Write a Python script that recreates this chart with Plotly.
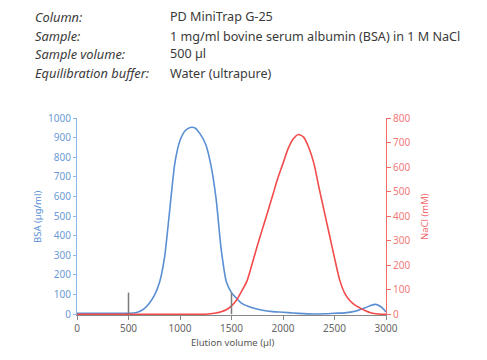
import plotly.graph_objects as go

# BSA (µg/ml) vs elution volume (µl)
bsa_x = [0, 250, 500, 550, 600, 650, 700, 750, 800, 850, 900, 950, 1000, 1050, 1100, 1150,
         1200, 1250, 1300, 1350, 1400, 1450, 1500, 1550, 1600, 1700, 1800, 1900, 2000, 2100,
         2200, 2300, 2400, 2500, 2600, 2700, 2750, 2800, 2850, 2900, 2950, 3000]
bsa_y = [5, 5, 5, 6, 12, 27, 55, 95, 160, 290, 530, 770, 885, 935, 952, 948,
         915, 865, 760, 590, 330, 165, 110, 80, 55, 33, 20, 13, 10, 6,
         3, 1, 2, 5, 7, 15, 24, 33, 44, 50, 38, 12]

# NaCl (mM) vs elution volume (µl)
nacl_x = [0, 1000, 1250, 1300, 1350, 1400, 1450, 1500, 1550, 1600, 1650, 1700, 1750, 1800,
          1850, 1900, 1950, 2000, 2050, 2100, 2150, 2200, 2250, 2300, 2350, 2400, 2450, 2500,
          2550, 2600, 2650, 2700, 2750, 2800, 2850, 2900, 2950, 3000]
nacl_y = [0, 0, 0, 2, 5, 10, 18, 34, 58, 95, 135, 205, 278, 347,
          415, 485, 555, 615, 675, 715, 733, 722, 680, 615, 515, 420, 325, 230,
          140, 85, 55, 37, 25, 14, 6, 2, 0, 0]

# Sample application / collection markers
marker_x = [500, 1500]
marker_h = [110, 110]

x_ticks = [0, 500, 1000, 1500, 2000, 2500, 3000]
bsa_ticks = [0, 100, 200, 300, 400, 500, 600, 700, 800, 900, 1000]
nacl_ticks = [0, 100, 200, 300, 400, 500, 600, 700, 800]

header_labels = ["Column:", "Sample:", "Sample volume:", "Equilibration buffer:"]
header_values = ["PD MiniTrap G-25", "1 mg/ml bovine serum albumin (BSA) in 1 M NaCl",
                 "500 µl", "Water (ultrapure)"]

BLUE = "#5a8fd4"
RED = "#f24b4b"
FONT = "Noto Sans"

fig = go.Figure()
fig.add_trace(go.Scatter(x=nacl_x, y=nacl_y, yaxis="y2", mode="lines",
                         line=dict(color=RED, width=1.6, shape="spline", smoothing=0.6),
                         showlegend=False, hoverinfo="skip"))
fig.add_trace(go.Scatter(x=bsa_x, y=bsa_y, mode="lines",
                         line=dict(color=BLUE, width=1.6, shape="spline", smoothing=0.6),
                         showlegend=False, hoverinfo="skip"))

for mx, mh in zip(marker_x, marker_h):
    fig.add_shape(type="line", xref="x", yref="y", x0=mx, x1=mx, y0=0, y1=mh,
                  line=dict(color="#7a7a7a", width=1.5))

# header text (positions relative to plot area: left 77, right 386, top 118, bottom 315 on page)
line_y = [17, 36, 54, 73]
for lab, val, py in zip(header_labels, header_values, line_y):
    yy = (315 - py) / 197
    fig.add_annotation(x=(33 - 77) / 309, y=yy, xref="paper", yref="paper", text=f"<i>{lab}</i>",
                       showarrow=False, xanchor="left", yanchor="middle",
                       font=dict(family=FONT, size=12.8, color="#3a3a3a"))
    fig.add_annotation(x=(168 - 77) / 309, y=yy, xref="paper", yref="paper", text=val,
                       showarrow=False, xanchor="left", yanchor="middle",
                       font=dict(family=FONT, size=12.6, color="#3a3a3a"))

# axis titles
fig.add_annotation(x=(37 - 77) / 309, y=(315 - 217) / 197, xref="paper", yref="paper",
                   text="BSA (µg/ml)", textangle=-90, showarrow=False,
                   xanchor="center", yanchor="middle",
                   font=dict(family=FONT, size=9.5, color=BLUE))
fig.add_annotation(x=(424 - 77) / 309, y=(315 - 217) / 197, xref="paper", yref="paper",
                   text="NaCl (mM)", textangle=-90, showarrow=False,
                   xanchor="center", yanchor="middle",
                   font=dict(family=FONT, size=9.5, color="#f26a6a"))
fig.add_annotation(x=(232 - 77) / 309, y=(315 - 342) / 197, xref="paper", yref="paper",
                   text="Elution volume (µl)", showarrow=False,
                   xanchor="center", yanchor="middle",
                   font=dict(family=FONT, size=9.5, color="#555555"))

# page body has an 8px margin, so margins are offset by 8px
fig.update_layout(
    template="none",
    width=487, height=360,
    margin=dict(l=69, r=109, t=110, b=53, autoexpand=False),
    paper_bgcolor="white", plot_bgcolor="white",
    font=dict(family=FONT),
    xaxis=dict(range=[0, 3000], tickvals=x_ticks, ticks="outside", ticklen=4,
               tickcolor="#888888", showline=True, linecolor="#888888", linewidth=1,
               showgrid=False, zeroline=False, automargin=False,
               tickfont=dict(family=FONT, size=10, color="#666666")),
    yaxis=dict(range=[-4, 1000], tickvals=bsa_ticks, ticks="outside", ticklen=3,
               tickcolor="#8fb8e8", showline=True, linecolor="#8fb8e8", linewidth=1,
               showgrid=False, zeroline=False, automargin=False,
               tickfont=dict(family=FONT, size=10, color="#6b9bd6")),
    yaxis2=dict(range=[-3.2, 800], tickvals=nacl_ticks, ticks="outside", ticklen=4,
                tickcolor="#f26a6a", showline=True, linecolor="#f26a6a", linewidth=1,
                showgrid=False, zeroline=False, overlaying="y", side="right", automargin=False,
                tickfont=dict(family=FONT, size=10, color="#f27a7a")),
)

fig.write_html("out.html")
